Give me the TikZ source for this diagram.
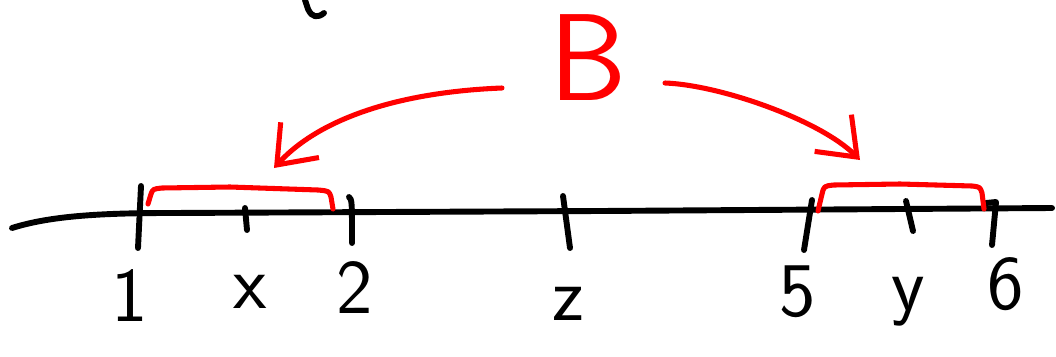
\documentclass[tikz,border=0pt]{standalone}
\usetikzlibrary{arrows.meta}

\begin{document}
\begin{tikzpicture}[x=0.025cm,y=-0.025cm,line cap=round,line join=round]

      \useasboundingbox (0,0) rectangle (1056,356);

      % the line
      \draw[line width=4.2pt] (12,228) .. controls (50,216) and (100,213) .. (170,213) -- (600,211) -- (1052,208);
      \draw[line width=4.2pt] (305,0) -- (308,9) .. controls (312,18) and (318,18) .. (324,13);

      \begin{scope}[line width=4.2pt]
        \draw (141,186) -- (138,248);
        \draw (245,208) -- (247,230);
        \draw (349,197) .. controls (352,200) .. (352,243);
        \draw (563,196) -- (570,248);
        \draw (812,200) -- (804,250);
        \draw (906,201) -- (913,231);
        \draw (986,203) -- (996,202) -- (992,245);
      \end{scope}

      \begin{scope}[every node/.style={font=\sffamily\fontsize{55}{55}\selectfont,inner sep=0pt}]
        \node (1) at (130,296) {1};
        \node (x) at (250,292) {x};
        \node (2) at (355,288) {2};
        \node (z) at (568,304) {z};
        \node (5) at (798,292) {5};
        \node (y) at (908,302) {y};
        \node (6) at (1006,284) {6};
      \end{scope}

      \begin{scope}[red,line width=3.6pt]
        \node[font=\sffamily\fontsize{88}{88}\selectfont,inner sep=0pt] (B) at (588,58) {B};

        \draw (148,204) -- (151,194) .. controls (153,189) .. (162,188) -- (230,187) -- (318,190) .. controls (329,191) .. (331,197) -- (333,209);
        \draw (818,211) -- (822,194) .. controls (824,186) .. (834,185) -- (900,184) -- (972,186) .. controls (980,187) .. (982,193) -- (984,209);

        \coordinate (ls) at (502,88);
        \coordinate (le) at (274,168);
        \coordinate (rs) at (665,83);
        \coordinate (re) at (860,160);

        \draw[-{Straight Barb[length=0.85cm,width=1.3cm]}] (ls) .. controls (400,92) and (320,118) .. (le);
        \draw[-{Straight Barb[length=0.85cm,width=1.3cm]}] (rs) .. controls (720,85) and (820,120) .. (re);
      \end{scope}

    \end{tikzpicture}
\end{document}
